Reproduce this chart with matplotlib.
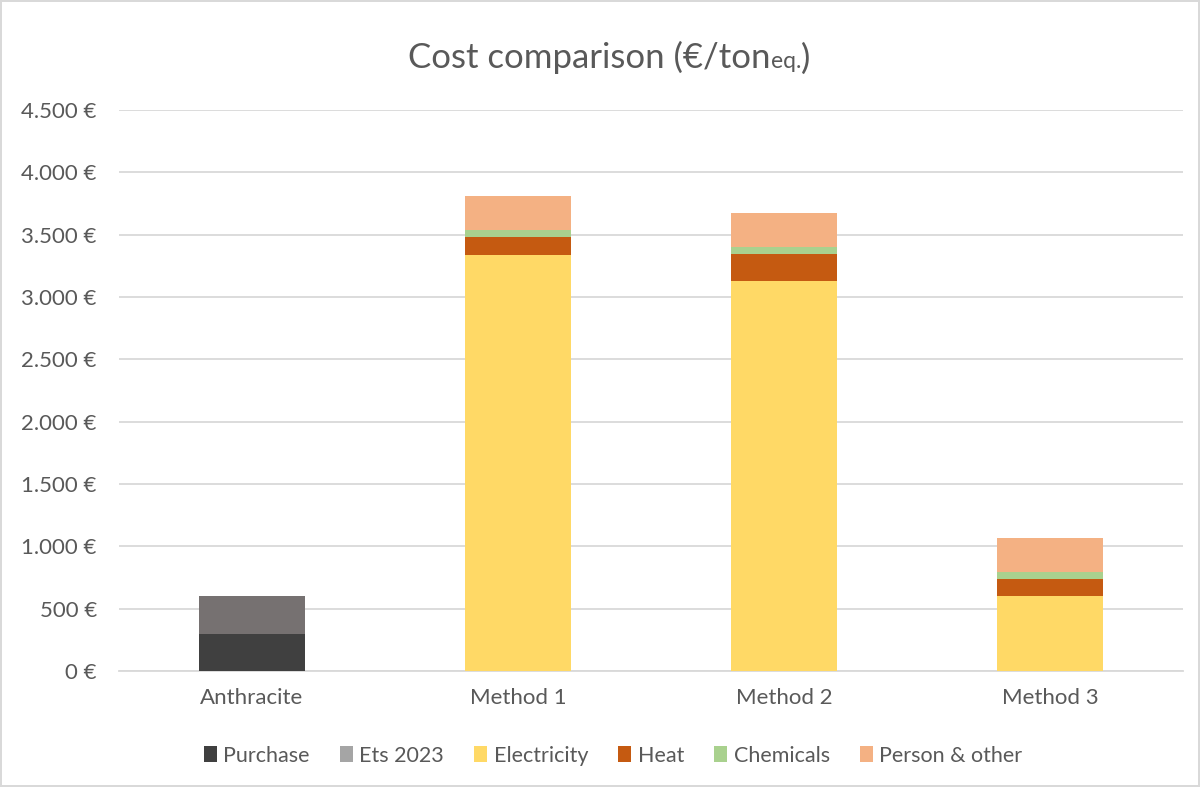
import matplotlib.pyplot as plt
import numpy as np
from matplotlib.patches import Patch
from matplotlib.ticker import FuncFormatter

categories = ['Anthracite', 'Method 1', 'Method 2', 'Method 3']
purchase = [300, 0, 0, 0]
ets_2023 = [300, 0, 0, 0]
electricity = [0, 3340, 3130, 598]
heat = [0, 140, 218, 140]
chemicals = [0, 55, 56, 56]
person_other = [0, 275, 272, 275]

series = [
    ('Purchase', purchase, '#404040', '#404040'),
    ('Ets 2023', ets_2023, '#767171', '#A5A5A5'),
    ('Electricity', electricity, '#FFD966', '#FFD966'),
    ('Heat', heat, '#C55A11', '#C55A11'),
    ('Chemicals', chemicals, '#A9D18E', '#A9D18E'),
    ('Person & other', person_other, '#F4B183', '#F4B183'),
]

plt.rcParams['font.family'] = ['Lato', 'DejaVu Sans']
txt = '#595959'

fig = plt.figure(figsize=(12, 7.87), dpi=100)
fig.patch.set_edgecolor('#D9D9D9')
fig.patch.set_linewidth(1.5)
ax = fig.add_axes([0.0992, 0.1474, 0.8867, 0.7128])

x = np.arange(len(categories))
bottom = np.zeros(len(categories))
for name, vals, col, _ in series:
    vals = np.array(vals, dtype=float)
    ax.bar(x, vals, 0.4, bottom=bottom, color=col, zorder=3)
    bottom += vals

ax.set_xlim(-0.5, len(categories) - 0.5)
ax.set_ylim(0, 4500)
ax.set_yticks(np.arange(0, 4501, 500))
ax.yaxis.set_major_formatter(FuncFormatter(lambda v, p: f'{int(v):,} €'.replace(',', '.')))
ax.set_xticks(x)
ax.set_xticklabels(categories)
ax.tick_params(axis='both', length=0, labelsize=16, colors=txt)
ax.tick_params(axis='x', pad=12)
ax.tick_params(axis='y', pad=16)
ax.grid(axis='y', color='#D9D9D9', linewidth=1.3, zorder=0)
for s in ['top', 'right', 'left']:
    ax.spines[s].set_visible(False)
ax.spines['bottom'].set_color('#D9D9D9')
ax.spines['bottom'].set_linewidth(1.3)

handles = [Patch(facecolor=lc, label=n) for n, _, _, lc in series]
fig.legend(handles=handles, loc='center', bbox_to_anchor=(0.511, 0.040), ncol=6, frameon=False,
           fontsize=15.5, labelcolor=txt, handlelength=0.6, handleheight=0.75,
           handletextpad=0.3, columnspacing=1.4)

# title with small "eq." part
fig.canvas.draw()
r = fig.canvas.get_renderer()
yb = 0.913
t1 = fig.text(0.5, yb, 'Cost comparison (€/ton', fontsize=25, color=txt, ha='left', va='baseline')
t2 = fig.text(0.5, yb, 'eq.', fontsize=16.5, color=txt, ha='left', va='baseline')
t3 = fig.text(0.5, yb, ')', fontsize=25, color=txt, ha='left', va='baseline')
w1 = t1.get_window_extent(r).width
w2 = t2.get_window_extent(r).width
w3 = t3.get_window_extent(r).width
W = fig.bbox.width
start = 0.508 * W - (w1 + w2 + w3) / 2
t1.set_x(start / W)
t2.set_x((start + w1) / W)
t3.set_x((start + w1 + w2) / W)

fig.savefig('out.png', dpi=100)
